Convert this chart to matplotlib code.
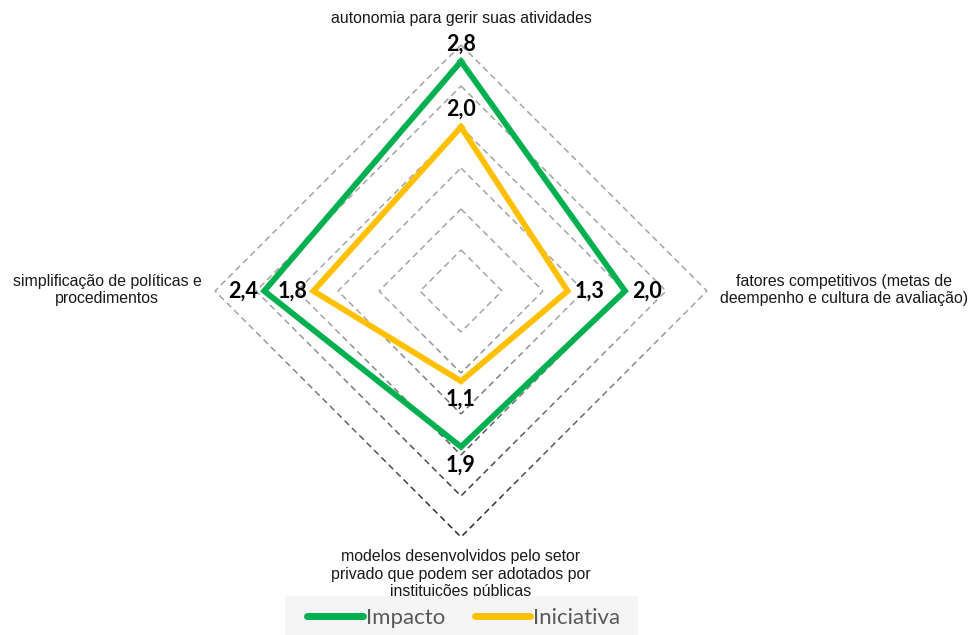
import numpy as np
import matplotlib
matplotlib.use('Agg')
import matplotlib.pyplot as plt
from matplotlib.lines import Line2D
from matplotlib.patches import Rectangle

plt.rcParams['lines.scale_dashes'] = False

# radar axes, clockwise from the top
categories = ['autonomia para gerir suas atividades',
              'fatores competitivos (metas de\ndeempenho e cultura de avaliação)',
              'modelos desenvolvidos pelo setor\nprivado que podem ser adotados por\ninstituições públicas',
              'simplificação de políticas e\nprocedimentos']
impacto = [2.8, 2.0, 1.9, 2.4]
iniciativa = [2.0, 1.3, 1.1, 1.8]
grid_levels = [0.5, 1.0, 1.5, 2.0, 2.5, 3.0]

green = '#00b050'
yellow = '#ffc000'

W, H, DPI = 972, 635, 100
S = 82.0            # pixels per unit of radius
cx, cy = 461, 291   # centre of the web, pixels from top-left

fig = plt.figure(figsize=(W / DPI, H / DPI), dpi=DPI)
ax = fig.add_axes([0, 0, 1, 1])
ax.set_xlim(-cx / S, (W - cx) / S)
ax.set_ylim(-(H - cy) / S, cy / S)
ax.axis('off')

angles = np.pi / 2 - np.arange(4) * np.pi / 2


def to_xy(vals):
    vals = np.asarray(vals, dtype=float)
    return vals * np.cos(angles), vals * np.sin(angles)


# dashed web rings, drawn in pieces so the tone can darken toward the bottom
on, off = 4.5, 3.0
pieces = 12
for r in grid_levels:
    xs, ys = to_xy([r] * 4)
    xs = np.append(xs, xs[0])
    ys = np.append(ys, ys[0])
    dist = 0.0
    for k in range(4):
        for j in range(pieces):
            t0, t1 = j / pieces, (j + 1) / pieces
            x0 = xs[k] + (xs[k + 1] - xs[k]) * t0
            x1 = xs[k] + (xs[k + 1] - xs[k]) * t1
            y0 = ys[k] + (ys[k + 1] - ys[k]) * t0
            y1 = ys[k] + (ys[k + 1] - ys[k]) * t1
            py = cy - 0.5 * (y0 + y1) * S
            f = np.clip((py - 320) / (520 - 320), 0, 1)
            g = 0.64 - 0.48 * f
            ax.plot([x0, x1], [y0, y1], color=(g, g, g), lw=1.1,
                    linestyle=(dist % (on + off), (on, off)),
                    dash_capstyle='butt', zorder=1)
            seg_px = np.hypot(x1 - x0, y1 - y0) * S
            dist += seg_px * 72 / DPI

# data series
for vals, col in ((impacto, green), (iniciativa, yellow)):
    x, y = to_xy(vals)
    ax.plot(np.append(x, x[0]), np.append(y, y[0]), color=col, lw=4.2,
            solid_joinstyle='miter', zorder=3)

# value labels next to each vertex
offsets = [(0, 12.5), (16, 0), (0, -13), (-15, 0)]
for vals in (impacto, iniciativa):
    x, y = to_xy(vals)
    for i, v in enumerate(vals):
        ax.annotate(f'{v:.1f}'.replace('.', ','), (x[i], y[i]),
                    xytext=offsets[i], textcoords='offset points',
                    ha='center', va='center', fontsize=15.5,
                    fontweight='bold', family='Lato', color='black',
                    zorder=4)

# category labels
lbl = dict(fontsize=11.4, family='Liberation Sans', color='#1a1a1a',
           linespacing=1.1)
ax.text(0, (cy - 18) / S, categories[0], ha='center', va='center', **lbl)
ax.text((844 - cx) / S, (cy - 290) / S, categories[1], ha='center',
        va='center', **lbl)
ax.text(0, (cy - 549) / S, categories[2], ha='center', va='top',
        **{**lbl, 'linespacing': 1.22})
ax.text((107 - cx) / S, (cy - 290) / S, categories[3], ha='center',
        va='center', **lbl)

# legend on a pale band at the bottom
band = Rectangle((285 / W, 0), (638 - 285) / W, (H - 596) / H,
                 transform=ax.transAxes, facecolor='#f4f4f4', alpha=0.85,
                 edgecolor='none', zorder=5)
ax.add_patch(band)
handles = [Line2D([], [], color=green, lw=5, solid_capstyle='round'),
           Line2D([], [], color=yellow, lw=5, solid_capstyle='round')]
leg = ax.legend(handles, ['Impacto', 'Iniciativa'], loc='center',
                bbox_to_anchor=(464 / W, 1 - 618 / H), ncol=2,
                frameon=False, prop={'family': 'Lato', 'size': 16},
                handlelength=2.5, handletextpad=0.15, columnspacing=1.3,
                borderpad=0.25, borderaxespad=0)
for t in leg.get_texts():
    t.set_color('#595959')
leg.set_zorder(6)

fig.savefig('out.png', dpi=DPI)
